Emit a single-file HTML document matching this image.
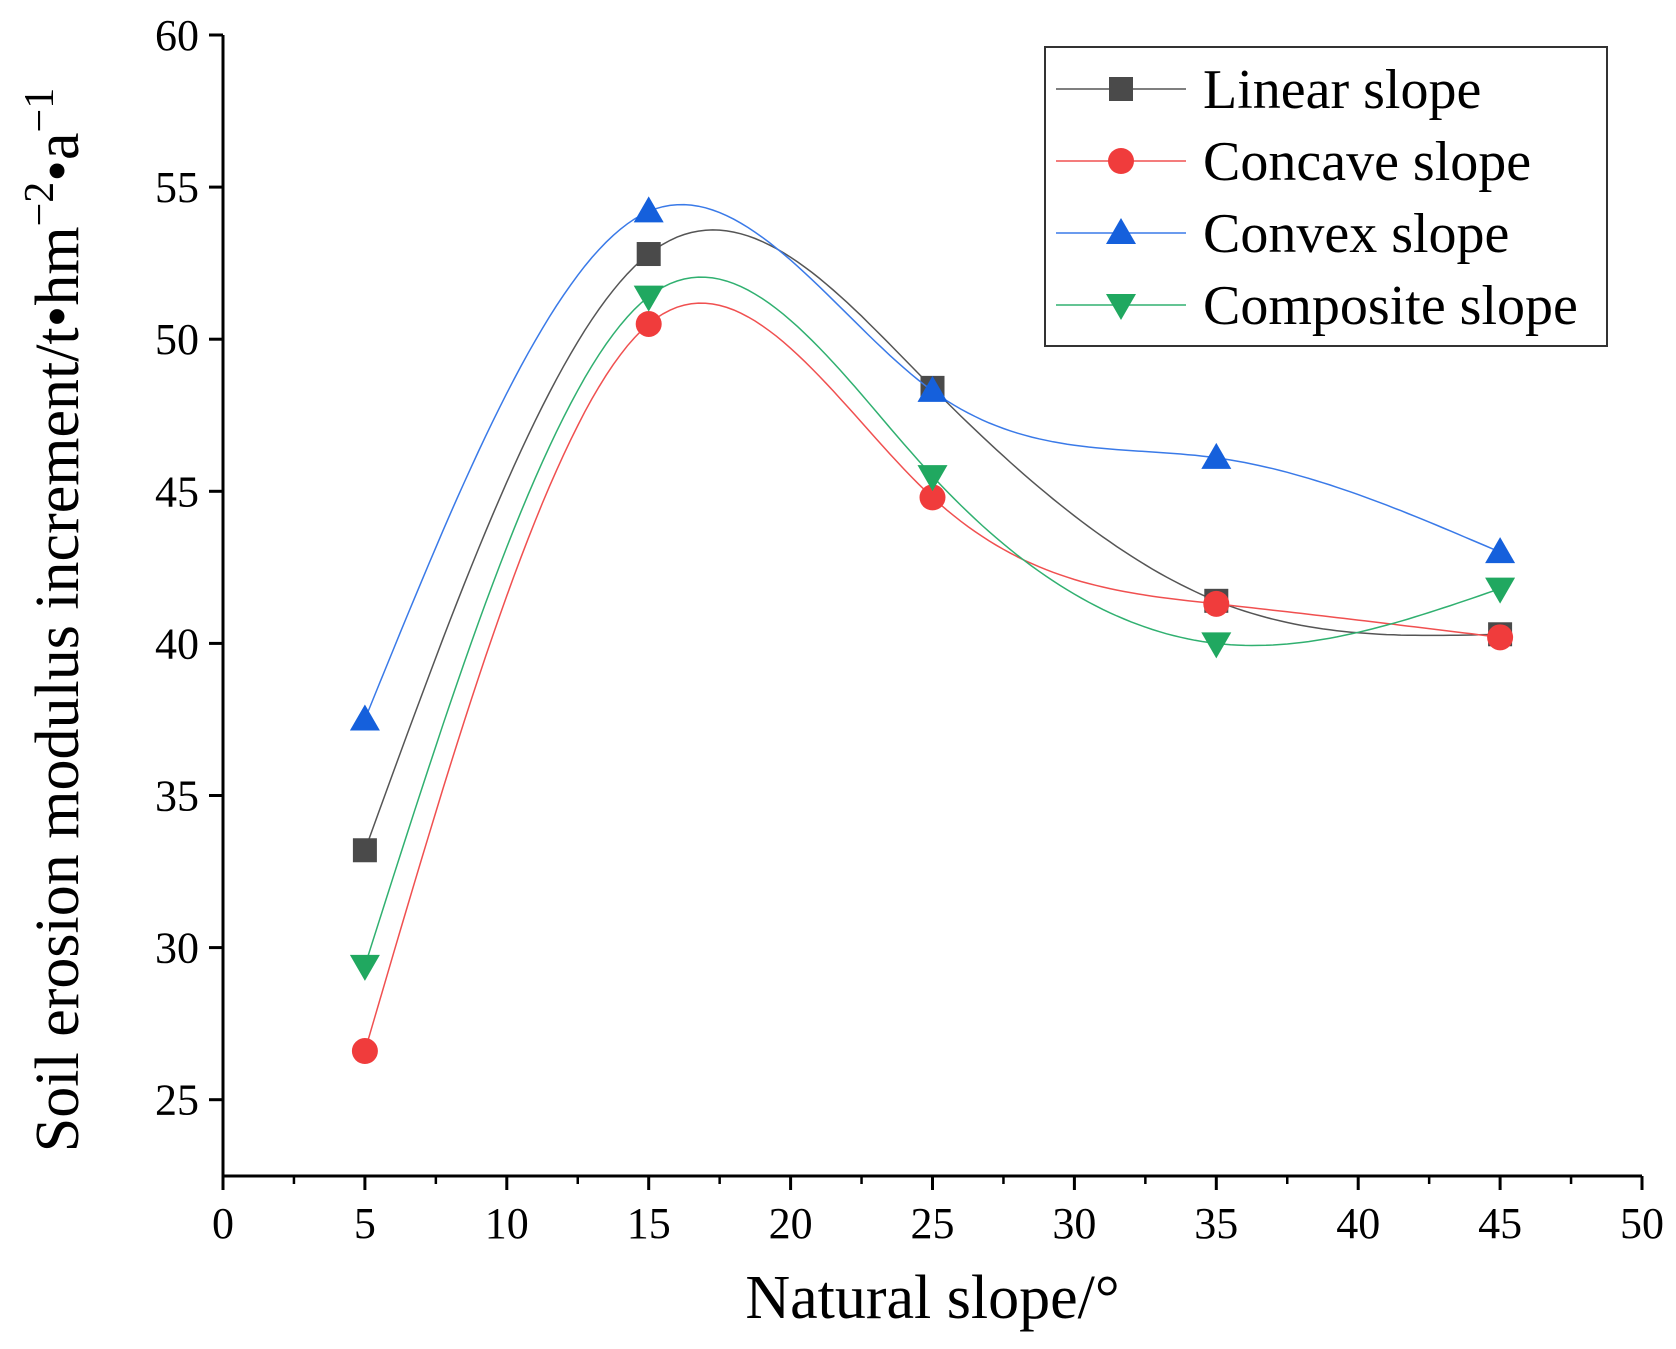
<!DOCTYPE html>
<html><head><meta charset="utf-8"><style>
body{margin:0;background:#fff;}
svg{display:block;font-family:"Liberation Serif",serif;}
</style></head><body>
<svg id="chart" width="1676" height="1349" viewBox="0 0 1676 1349">
<g id="axes"></g><g id="series"></g><g id="legend"></g>
</svg>
<script>
const xValues = [5, 15, 25, 35, 45];
const linearVals = [33.2, 52.8, 48.4, 41.4, 40.3];
const concaveVals = [26.6, 50.5, 44.8, 41.3, 40.2];
const convexVals = [37.5, 54.2, 48.3, 46.1, 43.0];
const compositeVals = [29.4, 51.4, 45.5, 40.0, 41.8];
const xTicks = [0,5,10,15,20,25,30,35,40,45,50];
const yTicks = [25,30,35,40,45,50,55,60];
const seriesNames = ["Linear slope","Concave slope","Convex slope","Composite slope"];

const NS="http://www.w3.org/2000/svg";
const L=223,R=1642,T=35,B=1176;
const sx=v=>L+(v-0)/50*(R-L);
const sy=v=>35+(60-v)/5*152.1;
function mk(tag,attrs,parent){const e=document.createElementNS(NS,tag);for(const k in attrs)e.setAttribute(k,attrs[k]);parent.appendChild(e);return e;}
const axes=document.getElementById('axes');
let e;
e=mk('line',{x1:L,y1:T,x2:L,y2:B,stroke:'#000','stroke-width':3},axes);

e=mk('line',{x1:L,y1:B,x2:R,y2:B,stroke:'#000','stroke-width':3},axes);

xTicks.forEach(t=>{
  const x=sx(t);
  mk('line',{x1:x,y1:B,x2:x,y2:B+14,stroke:'#000','stroke-width':3},axes);
  if(t<50) mk('line',{x1:sx(t+2.5),y1:B,x2:sx(t+2.5),y2:B+8,stroke:'#000','stroke-width':2.5},axes);
  e=mk('text',{x:x,y:B+62,'text-anchor':'middle','font-size':44},axes);e.textContent=t;
  
});
yTicks.forEach(t=>{
  const y=sy(t);
  mk('line',{x1:L-14,y1:y,x2:L,y2:y,stroke:'#000','stroke-width':3},axes);
  e=mk('text',{x:L-24,y:y+15,'text-anchor':'end','font-size':44},axes);e.textContent=t;
  
});
e=mk('text',{x:(L+R)/2,y:1318,'text-anchor':'middle','font-size':62},axes);e.textContent='Natural slope/°';

e=mk('text',{x:0,y:0,'text-anchor':'middle','font-size':62,transform:'translate(78,620) rotate(-90)'},axes);
e.innerHTML='Soil erosion modulus increment/t•hm<tspan dy="-25" font-size="42">−2</tspan><tspan dy="25">•a</tspan><tspan dy="-25" font-size="42">−1</tspan>';


function spline(xs,ys){
  const n=xs.length,h=[],a=[],l=[1],mu=[0],z=[0],c=new Array(n).fill(0),b=[],d=[];
  for(let i=0;i<n-1;i++)h.push(xs[i+1]-xs[i]);
  for(let i=1;i<n-1;i++)a[i]=3/h[i]*(ys[i+1]-ys[i])-3/h[i-1]*(ys[i]-ys[i-1]);
  for(let i=1;i<n-1;i++){l[i]=2*(xs[i+1]-xs[i-1])-h[i-1]*mu[i-1];mu[i]=h[i]/l[i];z[i]=(a[i]-h[i-1]*z[i-1])/l[i];}
  for(let j=n-2;j>=0;j--){c[j]=(j>0?z[j]:0)-mu[j]*c[j+1];b[j]=(ys[j+1]-ys[j])/h[j]-h[j]*(c[j+1]+2*c[j])/3;d[j]=(c[j+1]-c[j])/(3*h[j]);}
  let p='';
  for(let j=0;j<n-1;j++)for(let k=0;k<=40;k++){const t=h[j]*k/40,v=ys[j]+b[j]*t+c[j]*t*t+d[j]*t*t*t;p+=(p?'L':'M')+sx(xs[j]+t).toFixed(1)+','+sy(v).toFixed(1);}
  return p;
}
function marker(kind,x,y,color,parent){
  if(kind==='sq')return mk('rect',{x:x-12,y:y-12,width:24,height:24,fill:color},parent);
  if(kind==='ci')return mk('circle',{cx:x,cy:y,r:13,fill:color},parent);
  if(kind==='up')return mk('polygon',{points:`${x},${y-15} ${x-15},${y+11} ${x+15},${y+11}`,fill:color},parent);
  return mk('polygon',{points:`${x},${y+15} ${x-15},${y-11} ${x+15},${y-11}`,fill:color},parent);
}
const S=[[linearVals,'#4a4a4a','#555','sq','linear'],[concaveVals,'#f03c3c','#f05050','ci','concave'],[convexVals,'#1560dc','#3a7ae8','up','convex'],[compositeVals,'#20a860','#30b070','dn','composite']];
const sg=document.getElementById('series'),lg=document.getElementById('legend');
S.forEach(([vals,mc,lc,kind,nm])=>{
  const g=mk('g',{},sg);
  mk('path',{d:spline(xValues,vals),fill:'none',stroke:lc,'stroke-width':1.5},g);
  vals.forEach((v,i)=>{const m=marker(kind,sx(xValues[i]),sy(v),mc,g);
    });
});
e=mk('rect',{x:1045,y:47,width:562,height:299,fill:'#fff',stroke:'#333','stroke-width':2},lg);

S.forEach(([vals,mc,lc,kind,nm],i)=>{
  const y=89+i*72;
  const g=mk('g',{},lg);
  mk('line',{x1:1056,y1:y,x2:1186,y2:y,stroke:lc,'stroke-width':1.5},g);
  marker(kind,1121,y,mc,g);
  const t=mk('text',{x:1203,y:y+19,'font-size':56},g);t.textContent=seriesNames[i];
});
</script>
</body></html>
